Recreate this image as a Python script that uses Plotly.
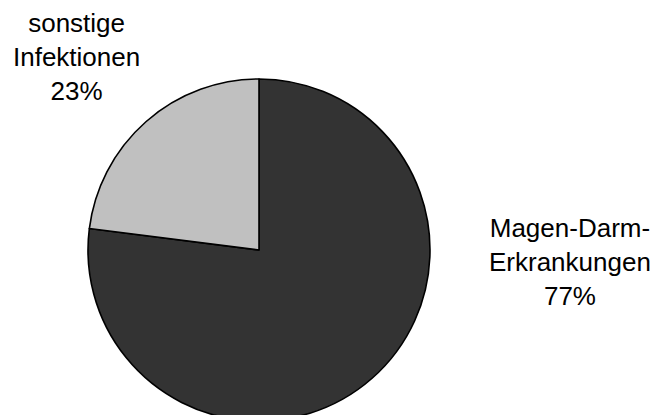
import plotly.graph_objects as go

# Data
categories = ["Magen-Darm-<br>Erkrankungen", "sonstige<br>Infektionen"]
shares = [77, 23]
colors = ["#333333", "#C0C0C0"]

W, H = 657, 430  # figure slightly taller than window; pie is cut at bottom like the reference

# pie geometry (pixels from top-left)
cx, cy, r = 259, 250, 171

fig = go.Figure(go.Pie(
    labels=categories,
    values=shares,
    sort=False,
    direction="clockwise",
    rotation=0,
    marker=dict(colors=colors, line=dict(color="#000000", width=1.6)),
    textinfo="none",
    hoverinfo="label+percent",
    showlegend=False,
    domain=dict(x=[(cx - r) / W, (cx + r) / W],
                y=[(H - cy - r) / H, (H - cy + r) / H]),
))

label_pos = [(570, 262), (76, 57)]
for cat, val, (lx, ly) in zip(categories, shares, label_pos):
    fig.add_annotation(
        x=lx / W, y=1 - ly / H, xref="paper", yref="paper",
        text=f"{cat}<br>{val}%", showarrow=False,
        xanchor="center", yanchor="middle", align="center",
        font=dict(family="Liberation Sans, Arial, sans-serif", size=26, color="#000000"),
    )

fig.update_layout(
    width=W, height=H,
    margin=dict(l=0, r=0, t=0, b=0),
    paper_bgcolor="#FFFFFF",
    plot_bgcolor="#FFFFFF",
)

fig.write_html(
    "out.html",
    post_script="document.documentElement.style.overflow='hidden';document.body.style.overflow='hidden';document.body.style.margin='0';",
)
